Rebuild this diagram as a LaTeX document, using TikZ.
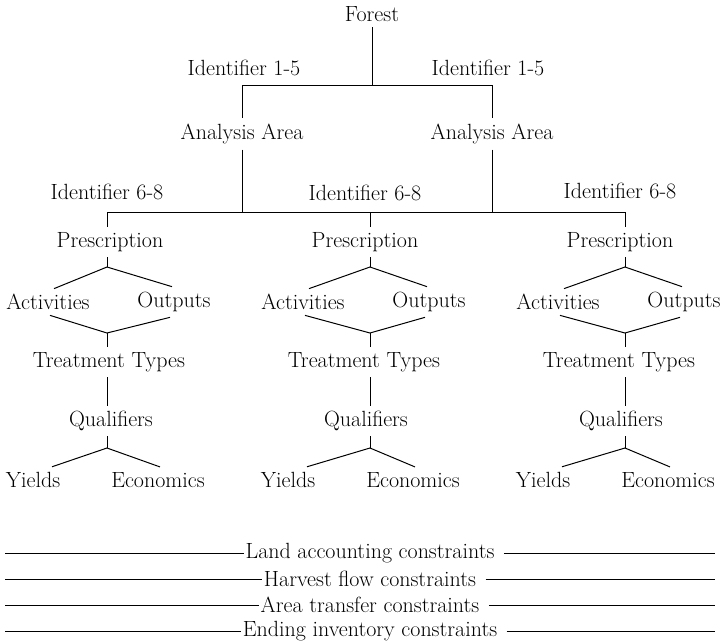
\documentclass[tikz,border=0pt]{standalone}
\usepackage{fontspec}
\usepackage{tikz}
\usetikzlibrary{positioning}
\tikzset{lbl/.style={inner sep=5pt,font=\fontsize{22}{26}\selectfont},
  cons/.style={inner sep=1pt,font=\fontsize{22}{26}\selectfont}}

\begin{document}
\begin{tikzpicture}[x=1pt,y=-1pt,line width=1pt]
    \useasboundingbox (0,0) rectangle (720,643);

    \node[lbl] (forest) at (372,14) {Forest};
    \node[lbl] (idL) at (244,68) {Identifier 1-5};
    \node[lbl] (idR) at (488,68) {Identifier 1-5};
    \node[lbl] (areaL) at (242,134) {Analysis Area};
    \node[lbl] (areaR) at (492,134) {Analysis Area};
    \node[lbl] (id1) at (107,192) {Identifier 6-8};
    \node[lbl] (id2) at (365,193) {Identifier 6-8};
    \node[lbl] (id3) at (620,191) {Identifier 6-8};

    \coordinate (top) at (372,85);
    \coordinate (topL) at (242,85);
    \coordinate (topR) at (492,85);
    \coordinate (barL) at (242,212);
    \coordinate (barR) at (492,212);

    \draw [] (forest) -- (top);
    \draw [] (topL) -- (topR);
    \draw [] (topL) -- (areaL);
    \draw [] (topR) -- (areaR);
    \draw [] (areaL) -- (barL);
    \draw [] (areaR) -- (barR);

    % one prescription tree per identifier
    \foreach \i/\x/\b in {1/107/115,2/370/370,3/625/625}{
        \coordinate (s\i) at (\x,212);
        \coordinate (j\i) at (\x,267);
        \coordinate (k\i) at (\x,333);
        \coordinate (m\i) at (\x,448);
        \node[lbl] (pres\i) at (\b-5,242) {Prescription};
        \node[lbl] (act\i) at (\b-67,302) {Activities};
        \node[lbl] (out\i) at (\b+59,302) {Outputs};
        \node[lbl] (treat\i) at (\b-6,362) {Treatment Types};
        \node[lbl] (qual\i) at (\b-4,421) {Qualifiers};
        \node[lbl] (yld\i) at (\b-82,480) {Yields};
        \node[lbl] (eco\i) at (\b+43,480) {Economics};

        \draw [] (s\i) -- (s\i |- pres\i.north);
        \draw [] (j\i |- pres\i.south) -- (j\i);
        \draw [] ([xshift=6pt]act\i.north) -- (j\i) -- ([xshift=-2pt]out\i.north);
        \draw [] ([xshift=2pt]act\i.south) -- (k\i) -- ([xshift=-4pt]out\i.south);
        \draw [] (k\i) -- (k\i |- treat\i.north);
        \draw [] (k\i |- treat\i.south) -- (k\i |- qual\i.north);
        \draw [] (m\i |- qual\i.south) -- (m\i);
        \draw [] ([xshift=19pt]yld\i.north) -- (m\i) -- ([xshift=2pt]eco\i.north);
    }
    \draw [] (s1) -- (s3);

    % constraint rows
    \foreach \i/\y/\t in {1/553/Land accounting constraints,
                          2/579/Harvest flow constraints,
                          3/605/Area transfer constraints,
                          4/631/Ending inventory constraints}{
        \node[cons] (c\i) at (370,\y) {\t};
        \coordinate (w\i) at (5,\y);
        \coordinate (e\i) at (715,\y);
        \draw [line width=0.6pt] (w\i) -- (c\i.west);
        \draw [line width=0.6pt] ([xshift=8pt]c\i.east) -- (e\i);
    }
\end{tikzpicture}
\end{document}
